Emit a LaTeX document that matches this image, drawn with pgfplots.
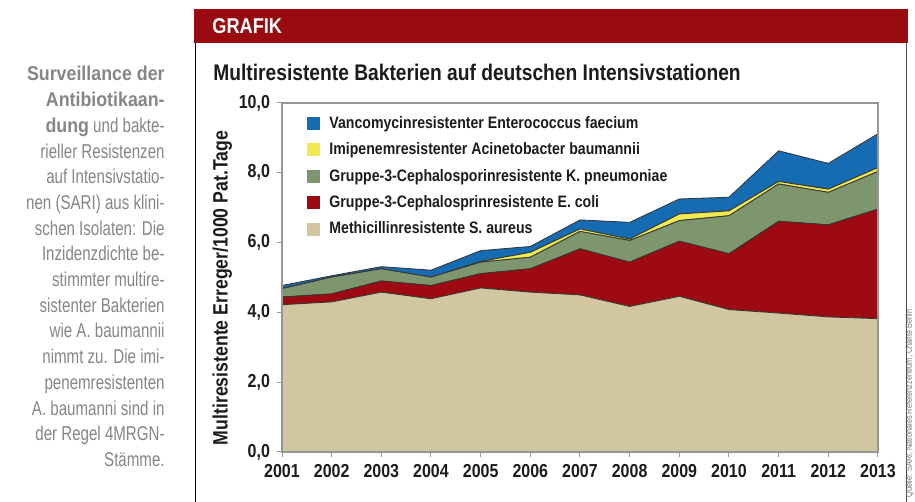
\documentclass[border=0pt]{standalone}
\usepackage{fontspec}
\setmainfont{Liberation Sans}[FakeStretch=0.85]
\newfontfamily\sidefont{Liberation Sans}[FakeStretch=0.755]
\newfontfamily\sidebold{Liberation Sans}[FakeStretch=0.89]
\usepackage{pgfplots}
\pgfplotsset{compat=1.18}
\definecolor{cTan}{RGB}{209,198,160}
\definecolor{cRed}{RGB}{158,10,18}
\definecolor{cGreen}{RGB}{126,150,110}
\definecolor{cYellow}{RGB}{240,234,80}
\definecolor{cBlue}{RGB}{22,108,178}
\definecolor{cHead}{RGB}{154,11,16}
\definecolor{cSide}{RGB}{134,134,134}
\definecolor{cText}{RGB}{30,27,30}
\definecolor{cFrame}{RGB}{150,150,150}

\begin{document}
\begin{tikzpicture}
\path[use as bounding box, fill=white] (0,0) rectangle (457.5pt,251pt);
% Kopfleiste und Rahmen
\fill[cHead] (97pt,229.5pt) rectangle (454pt,246.4pt);
\draw[black, line width=0.7pt] (97.6pt,0) -- (97.6pt,229.5pt);
\draw[black!70, line width=0.5pt] (453pt,0) -- (453pt,229.5pt);
\node[anchor=base west, inner sep=0, text=white, font=\fontsize{10.7}{12}\selectfont\bfseries] at (106pt,234pt) {GRAFIK};
\node[anchor=base west, inner sep=0, text=cText, font=\fontsize{11.3}{13}\selectfont\bfseries] at (106.5pt,210.5pt) {Multiresistente Bakterien auf deutschen Intensivstationen};

% Randtext
\foreach \t [count=\i from 0] in {
  {\sidebold\bfseries Surveillance der},
  {\sidebold\bfseries Antibiotikaan-},
  {{\sidebold\bfseries dung} und bakte-},
  {rieller Resistenzen},
  {auf Intensivstatio-},
  {nen (SARI) aus klini-},
  {schen Isolaten: Die},
  {Inzidenzdichte be-},
  {stimmter multire-},
  {sistenter Bakterien},
  {wie A. baumannii},
  {nimmt zu. Die imi-},
  {penemresistenten},
  {A. baumanni sind in},
  {der Regel 4MRGN-},
  {Stämme.}}
  \node[anchor=base east, inner sep=0, text=cSide, font=\sidefont\fontsize{10}{12}\selectfont] at (82.5pt,{210.5pt-\i*12.85pt}) {\t};

\node[rotate=90, anchor=south west, inner sep=0, text=black!55, font=\fontsize{4.3}{5}\selectfont] at (457pt,2pt) {Quelle: SARI, Nationales Referenzzentrum, Charité Berlin};

\begin{axis}[
  at={(141pt,25pt)}, anchor=south west,
  scale only axis, width=298pt, height=174.5pt,
  xmin=2001, xmax=2013, ymin=0, ymax=10,
  xtick={2001,...,2013}, ytick={0,2,...,10},
  stack plots=y, area style,
  axis line style={cFrame, line width=0.6pt},
  tick style={cFrame, line width=0.5pt},
  tick align=outside, tick pos=left, major tick length=2.5pt,
  ticklabel style={font=\fontsize{9.4}{10}\selectfont\bfseries, text=cText},
  /pgf/number format/assume math mode=true,
  x tick label style={/pgf/number format/1000 sep={}},
  y tick label style={/pgf/number format/.cd, fixed, fixed zerofill, precision=1, use comma},
  ylabel={Multiresistente Erreger/1000 Pat.Tage},
  ylabel style={font=\fontsize{10.4}{12}\selectfont\bfseries, text=cText,
    at={(axis description cs:-0.1,0.47)}, anchor=center},
  legend image code/.code={\fill[#1, draw=none] (0pt,-3.2pt) rectangle (6.5pt,3.3pt);},
  legend style={at={(axis description cs:0.042,0.975)}, anchor=north west, draw=none, fill=none,
    font=\fontsize{8.3}{9.5}\selectfont\bfseries, text=cText, row sep=1.7pt, inner sep=0pt,
    nodes={inner xsep=4.5pt}},
  legend cell align=left,
  reverse legend,
]
\addplot[fill=cTan, draw=black!80, line width=0.4pt] coordinates {
  (2001,4.22)(2002,4.30)(2003,4.58)(2004,4.39)(2005,4.70)(2006,4.58)(2007,4.50)
  (2008,4.17)(2009,4.46)(2010,4.08)(2011,3.98)(2012,3.87)(2013,3.82)} \closedcycle;
\addlegendentry{Methicillinresistente S. aureus}
\addplot[fill=cRed, draw=black!80, line width=0.4pt] coordinates {
  (2001,0.22)(2002,0.23)(2003,0.32)(2004,0.38)(2005,0.41)(2006,0.67)(2007,1.32)
  (2008,1.27)(2009,1.58)(2010,1.60)(2011,2.63)(2012,2.64)(2013,3.14)} \closedcycle;
\addlegendentry{Gruppe-3-Cephalosprinresistente E. coli}
\addplot[fill=cGreen, draw=black!80, line width=0.4pt] coordinates {
  (2001,0.24)(2002,0.48)(2003,0.35)(2004,0.24)(2005,0.33)(2006,0.33)(2007,0.50)
  (2008,0.62)(2009,0.59)(2010,1.09)(2011,1.07)(2012,0.93)(2013,1.08)} \closedcycle;
\addlegendentry{Gruppe-3-Cephalosporinresistente K. pneumoniae}
\addplot[fill=cYellow, draw=black!80, line width=0.4pt] coordinates {
  (2001,0.00)(2002,0.00)(2003,0.00)(2004,0.00)(2005,0.02)(2006,0.14)(2007,0.07)
  (2008,0.04)(2009,0.19)(2010,0.14)(2011,0.07)(2012,0.09)(2013,0.11)} \closedcycle;
\addlegendentry{Imipenemresistenter Acinetobacter baumannii}
\addplot[fill=cBlue, draw=black!80, line width=0.4pt] coordinates {
  (2001,0.09)(2002,0.04)(2003,0.06)(2004,0.20)(2005,0.31)(2006,0.17)(2007,0.26)
  (2008,0.48)(2009,0.43)(2010,0.39)(2011,0.88)(2012,0.74)(2013,0.97)} \closedcycle;
\addlegendentry{Vancomycinresistenter Enterococcus faecium}
\end{axis}
\end{tikzpicture}
\end{document}
